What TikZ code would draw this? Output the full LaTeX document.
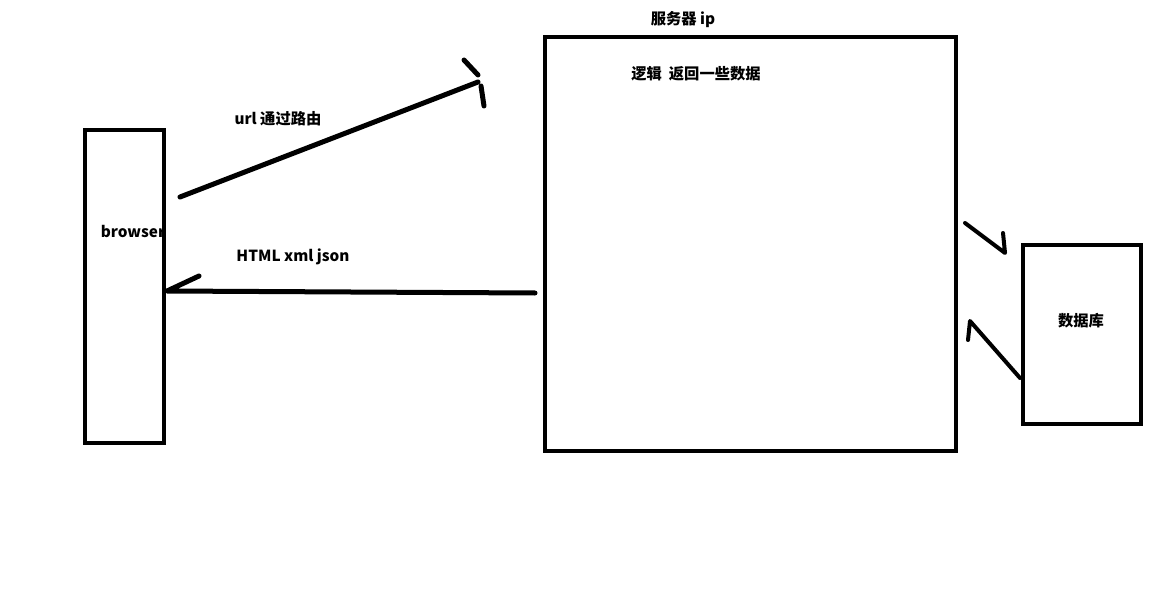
\documentclass[tikz,border=0pt]{standalone}
\usepackage{fontspec}
\setmainfont{Noto Sans CJK SC}
\usetikzlibrary{positioning}
\tikzset{box/.style={draw, line width=4pt, inner sep=0pt},
         stroke/.style={line width=5pt, line cap=round, line join=round},
         labeled/.style={font=\bfseries\fontsize{15.3}{17}\selectfont, inner sep=0pt}}

\begin{document}
\begin{tikzpicture}[x=1pt,y=-1pt]
   \useasboundingbox (0,0) rectangle (1169,604);
   % boxes
   \node[box, minimum width=79pt, minimum height=313pt] (browser) at (124.5,286.5) {};
   \node[box, minimum width=411pt, minimum height=414pt] (server) at (750.5,244) {};
   \node[box, minimum width=118pt, minimum height=179pt] (db) at (1082,334.5) {};
   % texts
   \node[labeled] (browsertxt) at (133,231) {browser};
   \node[labeled] (ip) at (683,20) {服务器 ip};
   \node[labeled] (logic) at (696,74) {逻辑\ \ 返回一些数据};
   \node[labeled] (url) at (278,119) {url 通过路由};
   \node[labeled] (html) at (293,257) {HTML xml json};
   \node[labeled] (dbtxt) at (1081,321) {数据库};
   % hand drawn arrows
   \coordinate (req-a) at (180,197);
   \coordinate (req-b) at (478,82);
   \coordinate (req-h1) at (464,60);
   \coordinate (req-h1b) at (478,75);
   \coordinate (req-h2a) at (481,86);
   \coordinate (req-h2) at (484,106);
   \coordinate (res-a) at (535,293);
   \coordinate (res-b) at (167,291);
   \coordinate (res-h) at (199,276);
   \coordinate (q-a) at (965,223);
   \coordinate (q-b) at (1005,253);
   \coordinate (q-h) at (1003,233);
   \coordinate (r-a) at (1020,378);
   \coordinate (r-b) at (970,321);
   \coordinate (r-h) at (968,340);
   \draw[stroke] (req-a) -- (req-b);
   \draw[stroke] (req-h1) -- (req-h1b);
   \draw[stroke] (req-h2a) -- (req-h2);
   \draw[stroke] (res-a) -- (res-b) -- (res-h);
   \draw[stroke, line width=4pt] (q-a) -- (q-b) -- (q-h);
   \draw[stroke, line width=4pt] (r-a) -- (r-b) -- (r-h);
\end{tikzpicture}
\end{document}
